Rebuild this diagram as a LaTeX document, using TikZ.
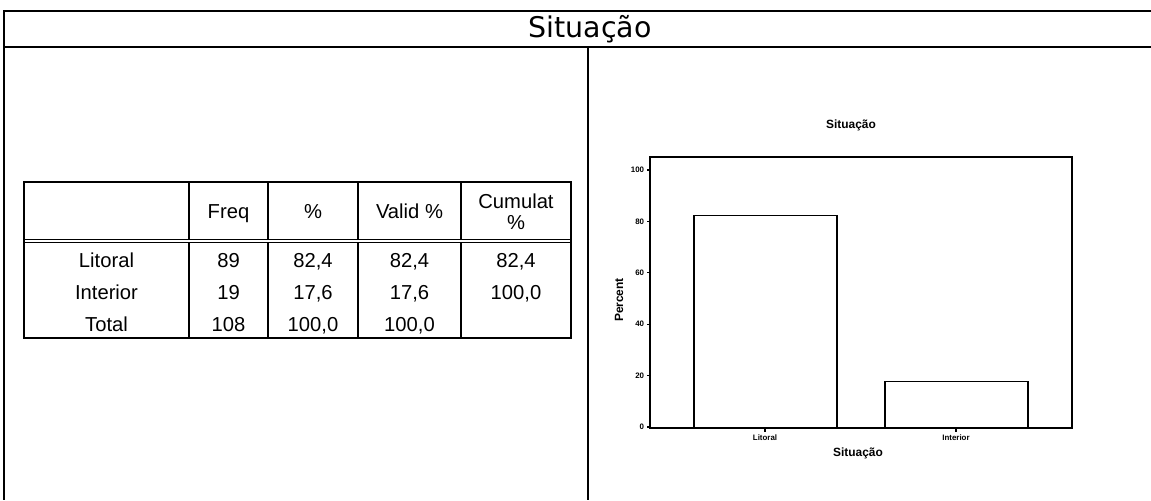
\documentclass[tikz,border=0pt]{standalone}
\usepackage{fontspec}
\setmainfont{Liberation Sans}
\newfontfamily\titlefont{DejaVu Sans}
\usetikzlibrary{positioning}

\tikzset{
  cell/.style={font=\fontsize{11.5}{13}\selectfont, inner sep=0pt, anchor=base},
  ticklabel/.style={font=\bfseries\fontsize{4.5}{5}\selectfont, inner sep=1pt},
  axlabel/.style={font=\bfseries\fontsize{6.8}{8}\selectfont, inner sep=0pt},
  bar/.style={draw, line width=0.8pt, fill=white}
}

\begin{document}
\begin{tikzpicture}[x=0.02cm, y=-0.02cm]
  \useasboundingbox (0,0) rectangle (1151,500);
  % Frame
  \draw[line width=0.9pt] (3,11) -- (1151,11);
  \draw[line width=0.9pt] (3,47) -- (1151,47);
  \draw[line width=0.6pt] (4,11) -- (4,500);
  \draw[line width=0.6pt] (588,47) -- (588,500);
  \node[font=\titlefont\fontsize{16.2}{18}\selectfont] (title) at (590,29) {Situação};

  % Table
  \draw[line width=1.6pt] (24,182) rectangle (571,338);
  \draw[line width=0.5pt] (24,239) -- (571,239);
  \draw[line width=0.5pt] (24,242.5) -- (571,242.5);
  \foreach \x in {189,268,358,461}
  {
    \draw[line width=0.6pt] (\x,182) -- (\x,239);
    \draw[line width=1.3pt] (\x,242.5) -- (\x,338);
  }
  % Header
  \node[cell] (hfreq) at (228.5,218) {Freq};
  \node[cell] (hpct) at (313,218) {\%};
  \node[cell] (hvalid) at (409.5,218) {Valid \%};
  \node[cell] (hcum) at (516,208) {Cumulat};
  \node[cell] (hcumpct) at (516,229) {\%};
  % Rows
  \foreach \lab/\f/\p/\v/\c [count=\i] in {Litoral/89/{82,4}/{82,4}/{82,4}, Interior/19/{17,6}/{17,6}/{100,0}, Total/108/{100,0}/{100,0}/{}}
  {
    \pgfmathsetmacro{\yb}{235+32*\i}
    \node[cell] (lab\i) at (106.5,\yb) {\lab};
    \node[cell] (freq\i) at (228.5,\yb) {\f};
    \node[cell] (pct\i) at (313,\yb) {\p};
    \node[cell] (valid\i) at (409.5,\yb) {\v};
    \node[cell] (cum\i) at (516,\yb) {\c};
  }

  % Chart
  \node[axlabel] (ctitle) at (851,125) {Situação};
  \draw[line width=0.8pt] (650,157) rectangle (1072,428);
  \foreach \v in {0,20,...,100}
    \draw[line width=0.7pt] (647,{427-2.57*\v}) -- (650,{427-2.57*\v}) node[ticklabel, left=2pt] (tick\v) {\v};
  \node[axlabel, rotate=90] (ylabel) at (619,300) {Percent};
  % Bars
  \draw[bar] (694,428) rectangle (837,{427-2.57*82.4});
  \draw[bar] (885,428) rectangle (1028,{427-2.57*17.6});
  \draw[line width=0.8pt] (650,428) -- (1072,428);
  \foreach \x/\name in {765/Litoral, 956/Interior}
    \draw[line width=0.6pt] (\x,428) -- (\x,432) node[ticklabel, below=0pt] (xl\name) {\name};
  \node[axlabel] (xlabel) at (858,453) {Situação};
\end{tikzpicture}
\end{document}
